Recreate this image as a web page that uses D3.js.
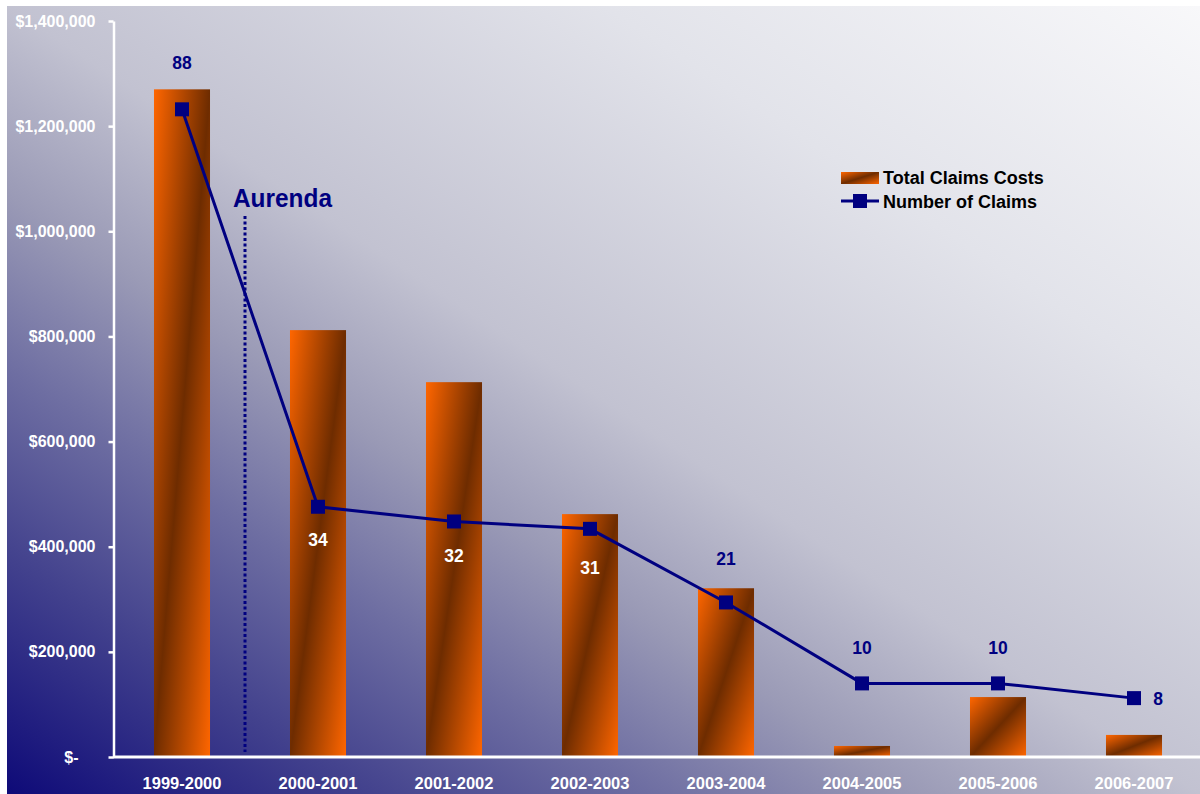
<!DOCTYPE html>
<html>
<head>
<meta charset="utf-8">
<script src="https://cdn.jsdelivr.net/npm/d3@7"></script>
<style>
  body { margin: 0; background: #fff; }
  svg { display: block; font-family: Arial, "Liberation Sans", sans-serif; }
</style>
</head>
<body>
<div class="canvas"></div>
<script>
      // data
      const seasons = ['1999-2000', '2000-2001', '2001-2002', '2002-2003', '2003-2004', '2004-2005', '2005-2006', '2006-2007'];
      const claimCosts = [1270000, 812000, 713000, 462000, 321000, 21000, 114000, 42000];
      const claimCounts = [88, 34, 32, 31, 21, 10, 10, 8];
      const costTicks = [0, 200000, 400000, 600000, 800000, 1000000, 1200000, 1400000];

      // where each count label sits relative to its marker
      const labelNudge = [[0, -40], [0, 39], [0, 41], [0, 45], [0, -37], [0, -29], [0, -29], [24, 7]];
      const labelColor = ['#000080', '#fff', '#fff', '#fff', '#000080', '#000080', '#000080', '#000080'];

      const width = 1200;
      const height = 794;

      const svg = d3.select('.canvas')
        .append('svg')
        .attr('width', width)
        .attr('height', height);

      const defs = svg.append('defs');

      // background gradient, dark navy bottom-left to near white top-right
      const bg = defs.append('linearGradient')
        .attr('id', 'bg')
        .attr('x1', 0).attr('y1', 1).attr('x2', 1).attr('y2', 0);
      [[0, '#0e0a78'], [0.15, '#42418d'], [0.27, '#6e6ea2'], [0.38, '#9a9ab6'], [0.5, '#c2c2d1'], [0.75, '#e2e3ea'], [1, '#f8f8fa']]
        .forEach(s => bg.append('stop').attr('offset', s[0]).attr('stop-color', s[1]));

      // bar fill: orange -> brown -> orange along the diagonal
      const barFill = defs.append('linearGradient')
        .attr('id', 'barFill')
        .attr('x1', 0).attr('y1', 0).attr('x2', 1).attr('y2', 1);
      [[0, '#ff6600'], [0.5, '#6e2c00'], [1, '#ff6600']]
        .forEach(s => barFill.append('stop').attr('offset', s[0]).attr('stop-color', s[1]));

      svg.append('rect')
        .attr('x', 7).attr('y', 6)
        .attr('width', width - 7).attr('height', height - 6)
        .attr('fill', 'url(#bg)');

      // scales
      const x = d3.scaleBand()
        .domain(seasons)
        .range([114, 1202])
        .paddingInner(0.588)
        .paddingOuter(0.294);
      const y = d3.scaleLinear().domain([0, 1400000]).range([757, 21]);
      const yCount = d3.scaleLinear().domain([0, 100]).range([757, 21]);

      // bars
      svg.append('g')
        .selectAll('rect')
        .data(claimCosts)
        .enter()
        .append('rect')
          .attr('x', (d, i) => x(seasons[i]))
          .attr('y', d => y(d))
          .attr('width', x.bandwidth())
          .attr('height', d => y(0) - y(d))
          .attr('fill', 'url(#barFill)');

      // Aurenda marker line, in the gap between the first two bars
      const markX = x(seasons[1]) - (x.step() - x.bandwidth()) / 2 - 5;
      svg.append('line')
        .attr('x1', markX).attr('x2', markX)
        .attr('y1', 216).attr('y2', 752)
        .attr('stroke', '#000080')
        .attr('stroke-width', 3)
        .attr('stroke-dasharray', '3,2.5');

      svg.append('text')
        .attr('x', 233).attr('y', 207)
        .attr('fill', '#000080')
        .attr('font-size', 26)
        .attr('font-weight', 'bold')
        .attr('textLength', 99)
        .attr('lengthAdjust', 'spacingAndGlyphs')
        .text('Aurenda');

      // axes
      const yAxis = d3.axisLeft(y)
        .tickValues(costTicks)
        .tickSizeInner(5)
        .tickSizeOuter(0)
        .tickPadding(13)
        .tickFormat(d => d === 0 ? '$-' : d3.format('$,')(d));

      const yaxisGroup = svg.append('g')
        .attr('transform', 'translate(113.5,0)')
        .call(yAxis);
      yaxisGroup.select('.domain').attr('stroke', '#fff').attr('stroke-width', 2.5);
      yaxisGroup.selectAll('.tick line').attr('stroke', '#fff').attr('stroke-width', 2.5);
      yaxisGroup.selectAll('text')
        .attr('fill', '#fff')
        .attr('font-size', 16)
        .attr('font-weight', 'bold')
        .attr('font-family', 'Arial, "Liberation Sans", sans-serif')
        .attr('dx', d => d === 0 ? -17 : 0);

      const xAxis = d3.axisBottom(x).tickSize(0).tickPadding(20);
      const xaxisGroup = svg.append('g')
        .attr('transform', 'translate(0,757)')
        .call(xAxis);
      xaxisGroup.select('.domain').attr('stroke', '#fff').attr('stroke-width', 3).attr('d', 'M113,0H1200');
      xaxisGroup.selectAll('text')
        .attr('fill', '#fff')
        .attr('font-size', 16.5)
        .attr('font-weight', 'bold')
        .attr('font-family', 'Arial, "Liberation Sans", sans-serif');

      // number of claims line
      const cx = (d, i) => x(seasons[i]) + x.bandwidth() / 2;
      const line = d3.line()
        .x(cx)
        .y(d => yCount(d));

      svg.append('path')
        .datum(claimCounts)
        .attr('fill', 'none')
        .attr('stroke', '#000080')
        .attr('stroke-width', 3)
        .attr('d', line);

      svg.append('g')
        .selectAll('rect')
        .data(claimCounts)
        .enter()
        .append('rect')
          .attr('x', (d, i) => cx(d, i) - 7)
          .attr('y', d => yCount(d) - 7)
          .attr('width', 14)
          .attr('height', 14)
          .attr('fill', '#000080');

      svg.append('g')
        .selectAll('text')
        .data(claimCounts)
        .enter()
        .append('text')
          .attr('x', (d, i) => cx(d, i) + labelNudge[i][0])
          .attr('y', (d, i) => yCount(d) + labelNudge[i][1])
          .attr('text-anchor', 'middle')
          .attr('font-size', 17.5)
          .attr('font-weight', 'bold')
          .attr('fill', (d, i) => labelColor[i])
          .text(d => d);

      // legend
      const legend = svg.append('g').attr('transform', 'translate(841,0)');
      legend.append('rect')
        .attr('x', 0).attr('y', 172)
        .attr('width', 38).attr('height', 12)
        .attr('fill', 'url(#barFill)');
      legend.append('text')
        .attr('x', 42).attr('y', 184)
        .attr('font-size', 18).attr('font-weight', 'bold').attr('fill', '#000')
        .text('Total Claims Costs');
      legend.append('line')
        .attr('x1', 0).attr('x2', 38)
        .attr('y1', 201).attr('y2', 201)
        .attr('stroke', '#000080').attr('stroke-width', 3);
      legend.append('rect')
        .attr('x', 12).attr('y', 194)
        .attr('width', 14).attr('height', 14)
        .attr('fill', '#000080');
      legend.append('text')
        .attr('x', 42).attr('y', 208)
        .attr('font-size', 18).attr('font-weight', 'bold').attr('fill', '#000')
        .text('Number of Claims');
</script>
</body>
</html>
